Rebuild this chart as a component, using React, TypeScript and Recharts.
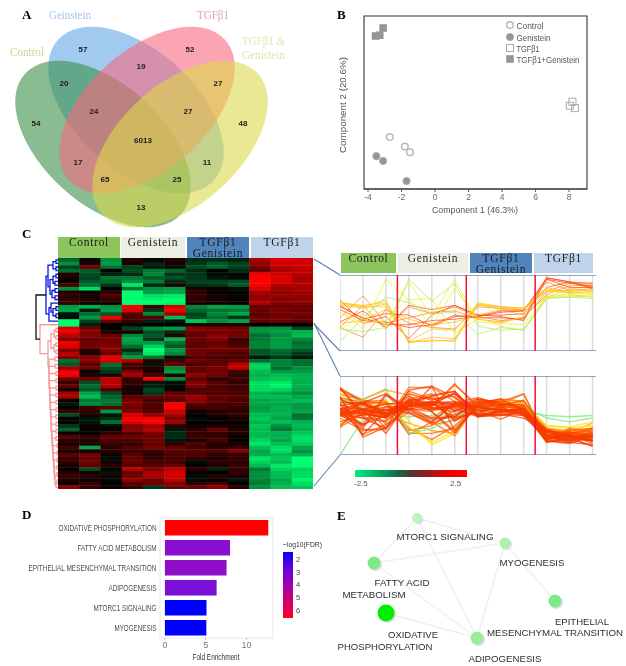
import React from "react";
import {
  BarChart, Bar, Cell, XAxis, YAxis, ScatterChart, Scatter, LineChart, Line, ReferenceLine, ReferenceArea,
} from "recharts";

/* ---------- Panel A: Venn ---------- */
const vennSets = [
  { name: "Genistein", x: 136, y: 110, angle: 42, fill: "#62a9e2" },
  { name: "Control", x: 103, y: 144, angle: 42, fill: "#3a8f48" },
  { name: "TGFb1", x: 147, y: 110, angle: -42, fill: "#f9697f" },
  { name: "TGFb1 & Genistein", x: 180, y: 144, angle: -42, fill: "#dcd94a" },
];
const vennCounts = [
  { t: "57", x: 83, y: 49 }, { t: "19", x: 141, y: 66 }, { t: "52", x: 190, y: 49 },
  { t: "20", x: 64, y: 83 }, { t: "27", x: 218, y: 83 }, { t: "24", x: 94, y: 111 },
  { t: "27", x: 188, y: 111 }, { t: "54", x: 36, y: 123 }, { t: "48", x: 243, y: 123 },
  { t: "6013", x: 143, y: 140 }, { t: "17", x: 78, y: 162 }, { t: "11", x: 207, y: 162 },
  { t: "65", x: 105, y: 179 }, { t: "25", x: 177, y: 179 }, { t: "13", x: 141, y: 207 },
];

/* ---------- Panel B: PCA ---------- */
const pcaControl = [{ x: -2.7, y: -1.55 }, { x: -1.8, y: -2.15 }, { x: -1.5, y: -2.5 }];
const pcaGenistein = [{ x: -3.5, y: -2.75 }, { x: -3.1, y: -3.05 }, { x: -1.7, y: -4.3 }];
const pcaTgf = [{ x: 8.2, y: 0.65 }, { x: 8.05, y: 0.4 }, { x: 8.35, y: 0.25 }];
const pcaTgfGen = [{ x: -3.55, y: 4.75 }, { x: -3.3, y: 4.8 }, { x: -3.1, y: 5.25 }];
const pcaLegend = [
  { label: "Control", kind: "oc", w: 27 }, { label: "Genistein", kind: "fc", w: 34 },
  { label: "TGFβ1", kind: "os", w: 23 }, { label: "TGFβ1+Genistein", kind: "fs", w: 63 },
];

/* ---------- Panel C: heat map rows, one value per sample (z-score) ---------- */
const upperCluster = [
  [-0.9,-0.1,-1.3,0.3,0.0,0.3,-0.4,-0.4,-0.3,1.6,2.0,1.9],
  [-1.3,0.3,-1.4,0.2,-0.3,0.2,-0.5,-0.8,-0.6,1.3,1.9,1.9],
  [-0.6,1.0,-1.0,-0.6,-0.2,-0.1,-0.7,-0.9,-0.6,1.1,1.7,1.8],
  [-1.0,-0.8,0.0,-0.7,-1.1,-0.9,-0.4,0.0,-0.4,0.9,1.5,1.7],
  [0.3,-0.7,-0.3,-0.4,-1.2,-0.5,-0.5,-0.1,-0.1,2.2,1.9,1.7],
  [0.2,-0.6,-1.1,-1.1,-0.8,-0.7,-0.5,-0.2,-0.1,2.3,2.0,1.5],
  [0.0,-0.8,-0.9,-1.3,-1.1,-0.4,-0.6,-0.6,-0.7,2.3,2.0,1.6],
  [0.7,-1.0,-0.5,-2.1,-0.4,0.3,-0.4,-0.5,-0.8,2.2,1.6,1.6],
  [-1.3,-2.0,0.0,-1.0,-1.3,-1.4,0.2,0.1,-0.1,2.0,1.4,1.5],
  [0.3,0.1,0.4,-2.3,-1.4,-1.5,0.4,0.0,0.0,1.5,1.3,1.4],
  [0.4,0.2,0.7,-2.4,-2.0,-2.1,0.5,0.2,0.1,1.3,1.4,1.4],
  [0.5,0.3,0.5,-2.4,-2.2,-2.3,0.4,0.2,0.0,1.4,1.2,1.3],
  [0.5,0.2,0.2,-2.3,-2.3,-2.2,0.3,0.2,0.1,1.6,1.2,1.2],
  [-1.4,-1.6,-1.3,2.2,0.6,1.9,-1.2,-1.5,-1.4,0.9,0.9,1.0],
  [-1.5,-0.3,-1.4,2.0,-0.5,2.2,-0.9,-1.0,-1.1,0.9,1.1,0.9],
  [-0.2,-1.0,-0.8,0.8,-1.2,1.5,-0.6,-1.2,-1.5,0.8,1.0,1.1],
  [-0.1,-1.4,2.2,0.7,0.8,-1.7,-0.7,-1.0,-0.5,1.0,1.1,0.9],
  [-2.3,-0.6,0.9,0.5,-0.3,-0.2,-1.8,-1.3,-1.5,0.8,0.9,0.8],
];
const lowerCluster = [
  [-3.1,-0.3,0.0,-0.1,0.0,0.0,0.3,0.3,0.3,0.0,-0.1,0.0],
  [2.0,1.1,0.0,-0.6,-1.2,-1.4,1.2,1.1,1.0,-1.3,-1.3,-0.6],
  [2.1,1.2,0.2,0.2,-0.7,-0.4,1.0,1.0,1.0,-1.3,-1.4,-1.6],
  [1.7,1.2,0.9,-1.2,-0.8,0.4,0.9,1.3,1.1,-1.0,-1.3,-1.7],
  [1.1,0.9,1.1,-1.5,-0.5,-1.6,1.0,1.2,0.5,-1.1,-1.4,-1.2],
  [2.2,1.0,1.0,-1.4,-1.4,-1.0,0.9,0.9,0.6,-1.2,-1.4,-1.0],
  [2.0,1.1,1.2,-1.0,-1.9,-0.8,0.8,1.1,0.8,-1.2,-1.4,-1.1],
  [1.2,0.4,1.2,-0.4,-2.3,-1.4,1.0,1.0,1.0,-0.8,-1.0,-0.8],
  [1.7,0.3,0.9,-0.9,-2.1,-1.2,1.0,0.8,0.7,-0.8,-0.9,-0.5],
  [1.2,1.2,2.1,-1.4,-1.0,-0.2,0.7,0.7,0.7,-0.2,-0.5,-0.2],
  [-1.0,1.3,2.0,1.6,0.4,0.6,1.0,0.8,0.9,-1.0,-1.2,-1.0],
  [-0.8,0.8,-1.0,0.7,-0.2,1.0,0.7,0.9,1.7,-1.9,-1.2,-1.0],
  [1.4,1.0,-0.7,0.5,0.3,-1.2,0.9,1.1,1.7,-1.9,-1.0,-1.3],
  [2.2,-0.1,-0.5,1.2,0.3,-1.4,0.9,1.0,0.5,-1.7,-1.4,-1.4],
  [2.1,0.3,0.2,1.5,0.6,0.3,1.3,1.0,0.5,-1.6,-1.7,-1.6],
  [1.0,1.0,1.7,0.4,2.3,-1.2,0.8,0.4,0.6,-1.7,-1.8,-1.6],
  [0.5,-0.7,1.7,0.5,-0.2,-0.1,1.2,0.8,0.5,-2.0,-2.1,-1.6],
  [0.9,-1.0,1.6,0.3,-0.3,-0.1,1.1,0.7,0.6,-2.0,-2.2,-1.6],
  [0.2,-0.8,0.7,0.2,-0.6,0.1,0.7,0.8,0.6,-2.0,-1.9,-1.5],
  [1.5,-1.5,-0.7,0.2,-0.5,0.9,0.8,0.7,0.7,-1.6,-1.5,-1.3],
  [1.5,-1.7,-0.9,0.8,0.9,1.0,1.4,0.9,0.8,-1.7,-1.7,-1.5],
  [0.1,-1.1,-1.1,1.1,0.6,0.8,1.3,0.9,0.7,-1.5,-1.6,-1.7],
  [-0.2,-1.2,-1.0,1.1,0.7,2.4,0.8,0.6,0.7,-1.5,-1.5,-1.4],
  [0.0,0.5,0.9,1.0,0.7,2.5,0.6,0.7,0.5,-1.4,-1.6,-1.4],
  [0.6,0.5,-1.4,1.2,0.8,1.8,0.1,0.3,0.4,-1.5,-1.6,-1.5],
  [-0.7,0.2,-0.2,1.9,1.3,1.5,0.0,0.3,0.5,-1.7,-1.6,-1.0],
  [0.0,-0.2,-0.4,2.2,2.2,1.1,-0.1,0.0,0.2,-1.8,-1.5,-1.1],
  [0.1,-0.2,-1.0,2.0,2.3,1.4,0.0,0.1,0.0,-1.6,-1.7,-1.6],
  [-0.5,0.1,-0.1,1.2,1.4,0.4,0.1,0.2,0.2,-1.8,-1.3,-1.7],
  [-0.9,0.1,0.1,1.3,1.7,-0.2,0.4,1.0,0.3,-1.7,-1.1,-1.6],
  [0.1,0.0,0.4,0.7,1.1,-0.4,0.4,0.5,0.3,-1.7,-1.6,-1.8],
  [0.8,0.5,0.9,1.0,1.0,-0.4,0.6,0.5,0.1,-1.7,-1.6,-2.0],
  [0.4,0.3,0.7,0.7,1.0,-0.2,0.2,0.7,0.0,-1.9,-1.5,-2.0],
  [0.2,0.4,0.5,0.5,0.9,0.4,0.7,0.3,0.2,-2.1,-1.7,-1.9],
  [0.6,-1.5,0.4,0.8,1.1,0.9,0.6,0.4,0.5,-1.7,-2.0,-1.5],
  [0.2,0.2,0.4,0.5,0.5,0.8,0.8,0.8,1.2,-1.5,-2.0,-1.3],
  [0.8,1.0,0.1,0.8,0.4,0.7,0.7,0.4,0.5,-1.6,-1.7,-1.6],
  [0.5,0.9,-0.1,0.9,0.5,0.7,0.4,0.3,0.5,-2.1,-1.8,-2.4],
  [0.5,1.0,0.1,0.9,0.6,0.6,-0.1,0.4,0.4,-1.9,-1.7,-2.4],
  [0.2,0.9,0.4,0.8,0.8,0.9,0.0,0.3,0.5,-1.7,-2.1,-2.3],
  [0.0,-0.7,0.0,1.7,1.2,1.7,0.4,-0.3,0.5,-1.1,-1.9,-1.9],
  [0.4,0.2,-0.2,0.9,1.5,1.9,0.1,0.0,0.4,-1.3,-1.7,-2.0],
  [0.5,0.4,0.2,1.1,1.6,1.9,-0.1,0.4,0.2,-1.3,-1.7,-2.0],
  [0.3,0.1,-0.1,1.3,1.0,1.7,-0.1,0.1,-0.2,-1.2,-1.5,-2.2],
  [0.1,0.5,0.0,0.7,1.0,1.1,0.4,0.6,0.0,-1.1,-1.6,-2.0],
  [1.3,0.5,0.1,0.5,-0.5,1.0,1.0,1.3,0.4,-1.3,-1.7,-1.8],
];
const samples = [0, 1, 2, 3, 4, 5, 6, 7, 8, 9, 10, 11];
const groupBreaks = [2.5, 5.5, 8.5];

/* row-clustering merges: [rowA, rowB, height, heightA, heightB] */
const blueMerges = [
  [0,1,2,0,0],[2,3,2,0,0],[0.5,2.5,5,2,2],[4,5,2,0,0],[6,7,3,0,0],[4.5,6.5,5,2,3],
  [8,9,3,0,0],[10,11,3,0,0],[8.5,10.5,6,3,3],[5.5,9.5,8,5,6],[1.5,7.5,10,5,8],
  [13,14,2,0,0],[15,16,2,0,0],[13.5,15.5,5,2,2],[12,14.5,7,0,5],[13.25,17,9,7,0],[4.5,15,12,10,9],
];
const pinkMerges = [
  [19,20,2,0,0],[21,22,2,0,0],[19.5,21.5,4,2,2],[23,24,2,0,0],[25,26,2,0,0],[23.5,25.5,4,2,2],[20.5,24.5,7,4,4],
  [27,28,3,0,0],[29,30,3,0,0],[31,32,2,0,0],[33,34,2,0,0],[35,36,2,0,0],[37,38,2,0,0],[39,40,2,0,0],
  [41,42,2,0,0],[43,44,2,0,0],[45,46,2,0,0],[47,48,2,0,0],[49,50,2,0,0],[51,52,1,0,0],[53,54,1,0,0],
  [55,56,1,0,0],[57,58,1,0,0],[59,60,1,0,0],[61,62,1,0,0],
  [61.5,63,2,1,0],[59.5,62.25,3,1,2],[57.5,60.9,3.5,1,3],[55.5,59.2,4,1,3.5],[53.5,57.35,4.5,1,4],
  [51.5,55.4,5,1,4.5],[49.5,53.45,5.5,2,5],[47.5,51.5,6,2,5.5],[45.5,49.5,6.5,2,6],[43.5,47.5,7,2,6.5],
  [41.5,45.5,7,2,7],[39.5,43.5,7.5,2,7],[37.5,41.5,8,2,7.5],[35.5,39.5,8,2,8],[33.5,37.5,8.5,2,8],
  [31.5,35.5,9,2,8.5],[29.5,33.5,9,3,8.5],[27.5,31.5,9,3,9],[22.5,29.5,10,7,9],[18,26,18,0,10],
];
const rootMerges = [[9.75,22,22,12,18]];

/* ---------- Panel D: enrichment ---------- */
const pathways = [
  "OXIDATIVE PHOSPHORYLATION", "FATTY ACID METABOLISM", "EPITHELIAL MESENCHYMAL TRANSITION",
  "ADIPOGENESIS", "MTORC1 SIGNALING", "MYOGENESIS",
];
const foldEnrichment = [12.67, 7.98, 7.56, 6.34, 5.1, 5.08];
const barColors = ["#ff0000", "#8a0fd0", "#8f0fc8", "#7a10d8", "#0000ff", "#0000ff"];
const fdrTicks = [2, 3, 4, 5, 6];

/* ---------- Panel E: network ---------- */
const netNodes = [
  { name: "MTORC1", x: 97, y: 18, size: 5, fill: "#bff2bf" },
  { name: "MYOGENESIS", x: 185, y: 43, size: 5.5, fill: "#aef0ae" },
  { name: "FATTY", x: 54, y: 63, size: 6.5, fill: "#7fe98a" },
  { name: "EPITHELIAL", x: 235, y: 101, size: 6.5, fill: "#7fe98a" },
  { name: "OXIDATIVE", x: 66, y: 113, size: 8.5, fill: "#00ee00" },
  { name: "ADIPOGENESIS", x: 157, y: 138, size: 6.5, fill: "#97ee97" },
];
const netEdges = [
  ["MTORC1", "MYOGENESIS"], ["MTORC1", "FATTY"], ["MTORC1", "ADIPOGENESIS"], ["FATTY", "MYOGENESIS"],
  ["FATTY", "ADIPOGENESIS"], ["MYOGENESIS", "ADIPOGENESIS"], ["MYOGENESIS", "EPITHELIAL"], ["OXIDATIVE", "ADIPOGENESIS"],
];
const netLabels = [
  { t: "MTORC1 SIGNALING", x: 125, y: 36, w: 97 }, { t: "MYOGENESIS", x: 212, y: 62, w: 65 },
  { t: "FATTY ACID", x: 82, y: 82, w: 55 }, { t: "METABOLISM", x: 54, y: 94, w: 63 },
  { t: "OXIDATIVE", x: 93, y: 134, w: 50 }, { t: "PHOSPHORYLATION", x: 65, y: 146, w: 95 },
  { t: "EPITHELIAL", x: 262, y: 121, w: 54 }, { t: "MESENCHYMAL TRANSITION", x: 235, y: 132, w: 136 },
  { t: "ADIPOGENESIS", x: 185, y: 158, w: 73 },
];

/* ---------- styling helpers ---------- */
const SANS = "'Liberation Sans', Arial, sans-serif";
const SERIF = "'Liberation Serif', 'Times New Roman', serif";
const barLabelWidth: Record<string, number> = {
  "OXIDATIVE PHOSPHORYLATION": 98, "FATTY ACID METABOLISM": 79, "EPITHELIAL MESENCHYMAL TRANSITION": 128,
  ADIPOGENESIS: 48, "MTORC1 SIGNALING": 63, MYOGENESIS: 42,
};

function heatColor(v: number) {
  const t = Math.min(1, Math.abs(v) / 2.3);
  if (v >= 0) return `rgb(${Math.round(255 * t)},0,0)`;
  return `rgb(0,${Math.round(255 * t)},${Math.round(110 * t)})`;
}
function upperLineColor(m: number) {
  if (m >= 1.75) return "#ff4a10";
  if (m >= 1.45) return "#ff8a10";
  if (m >= 1.15) return "#ffc010";
  if (m >= 0.95) return "#f2ee20";
  return "#a8ee60";
}
function lowerLineColor(m: number) {
  if (m <= -1.5) return "#f53c00";
  if (m <= -1.2) return "#ff6200";
  if (m <= -0.9) return "#ffa000";
  if (m <= -0.4) return "#ffe000";
  return "#78e878";
}
const meanTgf = (r: number[]) => (r[9] + r[10] + r[11]) / 3;

const heatRows = [...upperCluster, ...lowerCluster];
const heatCells = heatRows.flatMap((row, r) => row.map((v, c) => ({ x: c + 0.5, y: r + 0.5, v })));
const upperTable = samples.map((s) => {
  const o: Record<string, number> = { s };
  upperCluster.forEach((r, i) => { o["g" + i] = r[s]; });
  return o;
});
const lowerTable = samples.map((s) => {
  const o: Record<string, number> = { s };
  lowerCluster.forEach((r, i) => { o["g" + i] = r[s]; });
  return o;
});

function Canvas({ left, top, w, h, children }: any) {
  return (
    <div style={{ position: "absolute", left, top, width: w, height: h }}>
      <ScatterChart width={w} height={h} margin={{ top: 0, right: 0, bottom: 0, left: 0 }}>
        <XAxis type="number" dataKey="x" domain={[0, w]} hide />
        <YAxis type="number" dataKey="y" domain={[0, h]} reversed hide />
        {children}
      </ScatterChart>
    </div>
  );
}

const noPoint = () => <g />;

function Venn() {
  return (
    <Canvas left={0} top={0} w={300} h={232}>
      {vennSets.map((s) => (
        <Scatter key={s.name} data={[s]} isAnimationActive={false}
          shape={(p: any) => (
            <ellipse cx={p.cx} cy={p.cy} rx={105} ry={60} fill={s.fill} fillOpacity={0.6}
              transform={`rotate(${s.angle} ${p.cx} ${p.cy})`} />
          )} />
      ))}
      <Scatter data={vennCounts} isAnimationActive={false}
        shape={(p: any) => (
          <text x={p.cx} y={p.cy + 3} textAnchor="middle" fontSize={8} fontWeight={600} fontFamily={SANS} fill="#1c1c1c">
            {p.payload.t}
          </text>
        )} />
    </Canvas>
  );
}

function PcaPoint(p: any) {
  const { kind, cx, cy } = p;
  if (kind === "oc") return <circle cx={cx} cy={cy} r={3.3} fill="#fff" stroke="#b8b8b8" strokeWidth={1.5} />;
  if (kind === "fc") return <circle cx={cx} cy={cy} r={3.6} fill="#959595" stroke="#aaa" />;
  if (kind === "os") return <rect x={cx - 3.5} y={cy - 3.5} width={7} height={7} fill="none" stroke="#aaa" strokeWidth={1} />;
  return <rect x={cx - 3.8} y={cy - 3.8} width={7.6} height={7.6} fill="#959595" />;
}

function Pca() {
  const tick = { fontSize: 8.5, fill: "#666", fontFamily: SANS };
  return (
    <div style={{ position: "absolute", left: 340, top: 0, width: 255, height: 210 }}>
      <ScatterChart width={255} height={210} margin={{ top: 16, right: 8, bottom: 0, left: 24 }}>
        <XAxis type="number" dataKey="x" domain={[-4.24, 9.07]} ticks={[-4, -2, 0, 2, 4, 6, 8]} tick={tick}
          tickSize={3} axisLine={{ stroke: "#333", strokeWidth: 1 }} tickLine={{ stroke: "#555" }} height={21} interval={0} />
        <YAxis type="number" dataKey="y" domain={[-4.8, 6]} ticks={[0, 5]} width={0} axisLine={false}
          tickSize={3} tickLine={{ stroke: "#555" }}
          tick={(p: any) => (
            <text x={p.x - 3} y={p.y} transform={`rotate(-90 ${p.x - 3} ${p.y})`} textAnchor="middle" fontSize={8.5} fill="#666" fontFamily={SANS}>
              {p.payload.value}
            </text>
          )} />
        <ReferenceArea x1={-4.24} x2={9.07} y1={-4.8} y2={6} fill="none" stroke="#333" strokeWidth={1.1} />
        <Scatter data={pcaControl} isAnimationActive={false} shape={(p: any) => <PcaPoint {...p} kind="oc" />} />
        <Scatter data={pcaGenistein} isAnimationActive={false} shape={(p: any) => <PcaPoint {...p} kind="fc" />} />
        <Scatter data={pcaTgf} isAnimationActive={false} shape={(p: any) => <PcaPoint {...p} kind="os" />} />
        <Scatter data={pcaTgfGen} isAnimationActive={false} shape={(p: any) => <PcaPoint {...p} kind="fs" />} />
      </ScatterChart>
    </div>
  );
}

function Heat() {
  const w = 255, h = 231, cw = w / 12, ch = h / 64;
  return (
    <div style={{ position: "absolute", left: 58, top: 258, width: w, height: h, filter: "blur(0.5px)" }}>
      <ScatterChart width={w} height={h} margin={{ top: 0, right: 0, bottom: 0, left: 0 }}>
        <XAxis type="number" dataKey="x" domain={[0, 12]} hide />
        <YAxis type="number" dataKey="y" domain={[0, 64]} reversed hide />
        <Scatter data={heatCells} isAnimationActive={false}
          shape={(p: any) => (
            <rect x={p.cx - cw / 2} y={p.cy - ch / 2} width={cw + 0.4} height={ch + 0.4} fill={heatColor(p.payload.v)} />
          )} />
      </ScatterChart>
    </div>
  );
}

function Dendrogram() {
  const groups = [
    { merges: blueMerges, color: "#0a14e0" },
    { merges: pinkMerges, color: "#f59a9a" },
    { merges: rootMerges, color: "#111" },
  ];
  return (
    <div style={{ position: "absolute", left: 34, top: 258, width: 24, height: 231 }}>
      <ScatterChart width={24} height={231} margin={{ top: 0, right: 0, bottom: 0, left: 0 }}>
        <XAxis type="number" dataKey="x" domain={[0, 24]} reversed hide />
        <YAxis type="number" dataKey="y" domain={[0, 64]} reversed hide />
        {groups.flatMap((g, gi) =>
          g.merges.map((m, i) => (
            <Scatter key={gi + "-" + i} isAnimationActive={false} shape={noPoint}
              line={{ stroke: g.color, strokeWidth: 1.3 }}
              data={[
                { x: m[3], y: m[0] + 0.5 }, { x: m[2], y: m[0] + 0.5 },
                { x: m[2], y: m[1] + 0.5 }, { x: m[4], y: m[1] + 0.5 },
              ]} />
          ))
        )}
      </ScatterChart>
    </div>
  );
}

function Profile({ left, top, w, h, table, rows, colorOf, lo, hi, sw }: any) {
  return (
    <div style={{ position: "absolute", left, top, width: w, height: h }}>
      <LineChart width={w} height={h} data={table} margin={{ top: 0, right: 0, bottom: 0, left: 0 }}>
        <XAxis type="number" dataKey="s" domain={[0, 11.15]} hide />
        <YAxis type="number" domain={[lo, hi]} hide allowDataOverflow />
        {samples.map((s) => <ReferenceLine key={s} x={s} stroke="#dcdcdc" strokeWidth={1.5} />)}
        {rows.map((r: number[], i: number) => (
          <Line key={i} dataKey={"g" + i} type="linear" dot={false} isAnimationActive={false}
            stroke={colorOf(meanTgf(r))} strokeWidth={sw} strokeOpacity={0.75} />
        ))}
        <ReferenceLine y={hi} stroke="#7188aa" strokeWidth={1.5} />
        <ReferenceLine y={lo} stroke="#7188aa" strokeWidth={1.5} />
        {groupBreaks.map((b) => <ReferenceLine key={b} x={b} stroke="#f01030" strokeWidth={1.5} />)}
      </LineChart>
    </div>
  );
}

function Enrichment() {
  const data = pathways.map((name, i) => ({ name, value: foldEnrichment[i] }));
  return (
    <div style={{ position: "absolute", left: 0, top: 500, width: 300, height: 166 }}>
      <BarChart width={300} height={166} layout="vertical" data={data} barCategoryGap={2}
        margin={{ top: 18, right: 27, bottom: 0, left: 30 }}>
        <ReferenceArea x1={-0.6} x2={13.25} fill="none" stroke="#e4e9ef" strokeWidth={1} />
        <XAxis type="number" domain={[-0.6, 13.25]} ticks={[0, 5, 10]} height={28} tickSize={2}
          axisLine={false} tickLine={{ stroke: "#bbb" }} tick={{ fontSize: 9, fill: "#777", fontFamily: SANS }} />
        <YAxis type="category" dataKey="name" width={130} axisLine={false} tickLine={false} interval={0}
          tick={(p: any) => (
            <text x={156.5} y={p.y + 3} textAnchor="end" fontSize={9} fill="#4d4d4d" fontFamily={SANS}
              textLength={barLabelWidth[p.payload.value]} lengthAdjust="spacingAndGlyphs">
              {p.payload.value}
            </text>
          )} />
        <Bar dataKey="value" barSize={15.5} isAnimationActive={false}>
          {data.map((d, i) => <Cell key={d.name} fill={barColors[i]} />)}
        </Bar>
      </BarChart>
    </div>
  );
}

function Network() {
  const byName = Object.fromEntries(netNodes.map((n) => [n.name, n]));
  return (
    <Canvas left={320} top={500} w={306} h={166}>
      {netEdges.map(([a, b]) => (
        <Scatter key={a + b} isAnimationActive={false} shape={noPoint}
          line={{ stroke: "#f0f0f0", strokeWidth: 1.5 }} data={[byName[a], byName[b]]} />
      ))}
      <Scatter data={netNodes} isAnimationActive={false}
        shape={(p: any) => (
          <g>
            <circle cx={p.cx + 1.5} cy={p.cy + 1.5} r={p.payload.size} fill="#dddddd" />
            <circle cx={p.cx} cy={p.cy} r={p.payload.size} fill={p.payload.fill} />
          </g>
        )} />
      <Scatter data={netLabels} isAnimationActive={false}
        shape={(p: any) => (
          <text x={p.cx} y={p.cy + 3.5} textAnchor="middle" fontSize={9.7} fill="#2e2e2e" fontFamily={SANS}
            textLength={p.payload.w} lengthAdjust="spacingAndGlyphs">
            {p.payload.t}
          </text>
        )} />
    </Canvas>
  );
}

function Txt({ x, y, s = 11, c = "#000", f = SERIF, b = false, w, a = "start", children }: any) {
  return (
    <text x={x} y={y} fontSize={s} fill={c} fontFamily={f} fontWeight={b ? 700 : 400} textAnchor={a}
      textLength={w} lengthAdjust={w ? "spacingAndGlyphs" : undefined}>
      {children}
    </text>
  );
}

function HeaderBox({ x, y, w, h, fill, lines, dy }: any) {
  return (
    <g>
      <rect x={x} y={y} width={w} height={h} fill={fill} />
      {lines.map((l: any, i: number) => (
        <text key={i} x={x + w / 2} y={y + dy + i * 11} textAnchor="middle" fontSize={11.5} fontFamily={SERIF}
          fill="#1c1c1c" letterSpacing={0.7}>{l}</text>
      ))}
    </g>
  );
}

const heatHeaders = [
  { x: 58, w: 62, fill: "#8cc65d", lines: ["Control"] },
  { x: 121, w: 64, fill: "#eceee3", lines: ["Genistein"] },
  { x: 187, w: 62, fill: "#5183bd", lines: ["TGFβ1", "Genistein"] },
  { x: 251, w: 62, fill: "#bfd3ea", lines: ["TGFβ1"] },
];
const profileHeaders = [
  { x: 341, w: 55, fill: "#8cc65d", lines: ["Control"] },
  { x: 398, w: 70, fill: "#eceee3", lines: ["Genistein"] },
  { x: 470, w: 62, fill: "#5183bd", lines: ["TGFβ1", "Genistein"] },
  { x: 534, w: 59, fill: "#bfd3ea", lines: ["TGFβ1"] },
];

export default function App() {
  return (
    <div style={{ position: "absolute", left: 0, top: 0, width: 626, height: 666, background: "#fff", overflow: "hidden", filter: "blur(0.35px)" }}>
      <svg width={626} height={666} style={{ position: "absolute", left: 0, top: 0 }}>
        {heatHeaders.map((h) => <HeaderBox key={h.x} {...h} y={237} h={21} dy={9} />)}
        {profileHeaders.map((h) => <HeaderBox key={h.x} {...h} y={253} h={20} dy={9} />)}
        <g stroke="#5f82ad" strokeWidth={1.1}>
          <line x1={314} y1={259} x2={340} y2={275} />
          <line x1={314} y1={324} x2={340} y2={351} />
          <line x1={314} y1={323} x2={340} y2={376} />
          <line x1={314} y1={486} x2={340} y2={455} />
        </g>
      </svg>

      <Venn />
      <Pca />
      <Dendrogram />
      <Heat />
      <Profile left={340} top={275} w={256} h={76} table={upperTable} rows={upperCluster} colorOf={upperLineColor} lo={-3} hi={2.5} sw={1} />
      <Profile left={339.5} top={376} w={256} h={79} table={lowerTable} rows={lowerCluster} colorOf={lowerLineColor} lo={-3.1} hi={3.1} sw={1.4} />
      <Enrichment />
      <Network />

      <div style={{ position: "absolute", left: 355, top: 470, width: 112, height: 7,
        background: "linear-gradient(90deg,#00f07a 0%,#00b868 18%,#146a48 38%,#4a3a34 50%,#a01818 66%,#f00000 85%,#ff0000 100%)" }} />
      <div style={{ position: "absolute", left: 283, top: 552, width: 10, height: 66,
        background: "linear-gradient(180deg,#0000ff 0%,#6a00e0 25%,#a000b0 50%,#d80060 78%,#ff0020 100%)" }} />

      <svg width={626} height={666} style={{ position: "absolute", left: 0, top: 0, pointerEvents: "none" }}>
        <Txt x={22} y={19} s={13} b>A</Txt>
        <Txt x={337} y={19} s={13} b>B</Txt>
        <Txt x={22} y={238} s={13} b>C</Txt>
        <Txt x={22} y={519} s={13} b>D</Txt>
        <Txt x={337} y={520} s={13} b>E</Txt>

        <Txt x={49} y={19} s={12} c="#a9c5e8" w={42}>Geinstein</Txt>
        <Txt x={197} y={19} s={12} c="#e3a3b2" w={32}>TGFβ1</Txt>
        <Txt x={242} y={45} s={12} c="#e6e3b4" w={43}>TGFβ1 &amp;</Txt>
        <Txt x={242} y={59} s={12} c="#e6e3b4" w={43}>Genistein</Txt>
        <Txt x={10} y={56} s={12} c="#c6d88e" w={34}>Control</Txt>

        <Txt x={475} y={213} a="middle" s={9.5} c="#555" f={SANS} w={86}>Component 1 (46.3%)</Txt>
        <g transform="translate(346 105) rotate(-90)">
          <Txt x={0} y={0} a="middle" s={9.5} c="#555" f={SANS} w={96}>Component 2 (20.6%)</Txt>
        </g>
        {pcaLegend.map((l, i) => {
          const y = [25, 37, 48, 59][i];
          return (
            <g key={l.label}>
              <PcaPoint cx={510} cy={y} kind={l.kind} />
              <Txt x={516.5} y={y + 3.5} s={8.8} c="#555" f={SANS} w={l.w}>{l.label}</Txt>
            </g>
          );
        })}

        <Txt x={354} y={486} s={8} c="#555" f={SANS}>-2.5</Txt>
        <Txt x={450} y={486} s={8} c="#555" f={SANS}>2.5</Txt>

        <Txt x={283} y={547} s={8} c="#333" f={SANS} w={39}>−log10(FDR)</Txt>
        {fdrTicks.map((t, i) => (
          <Txt key={t} x={296} y={562 + i * 12.7} s={7.5} c="#444" f={SANS}>{t}</Txt>
        ))}
        <Txt x={216} y={660} a="middle" s={9} c="#333" f={SANS} w={47}>Fold Enrichment</Txt>
      </svg>
    </div>
  );
}
